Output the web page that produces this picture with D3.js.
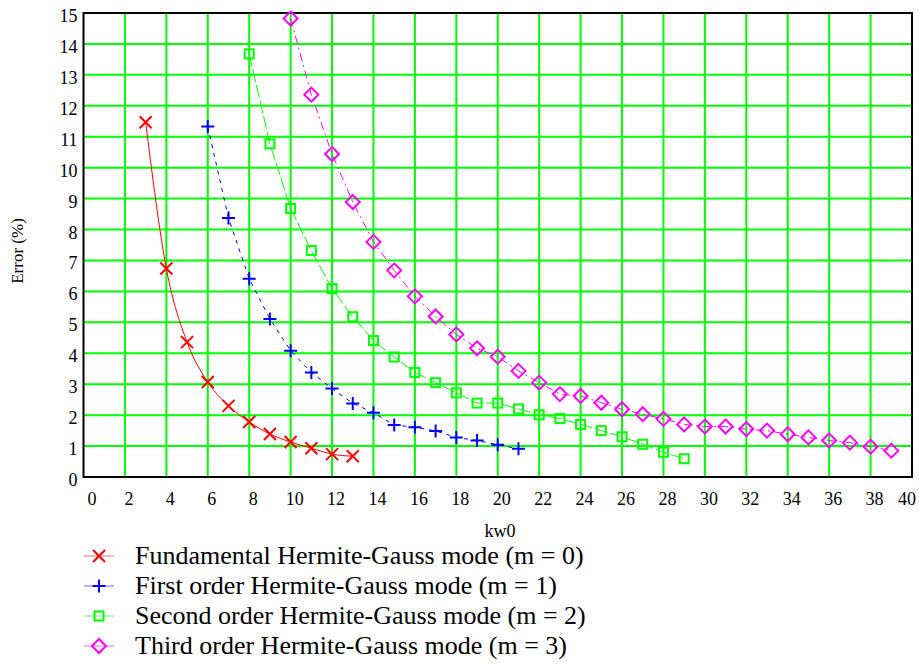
<!DOCTYPE html>
<html><head><meta charset="utf-8"><script src="https://cdn.jsdelivr.net/npm/d3@7"></script></head>
<body style="margin:0">
<svg id="chart" width="919" height="665"></svg>
<script>
// ---- data ----
const xTicks = [0,2,4,6,8,10,12,14,16,18,20,22,24,26,28,30,32,34,36,38,40];
const yTicks = [0,1,2,3,4,5,6,7,8,9,10,11,12,13,14,15];

const kw0_m0 = [3,4,5,6,7,8,9,10,11,12,13];
const err_m0 = [11.47,6.74,4.36,3.07,2.30,1.78,1.39,1.13,0.93,0.74,0.67];

const kw0_m1 = [6,7,8,9,10,11,12,13,14,15,16,17,18,19,20,21];
const err_m1 = [11.33,8.37,6.41,5.11,4.08,3.38,2.86,2.38,2.08,1.68,1.61,1.49,1.28,1.18,1.04,0.91];

const kw0_m2 = [8,9,10,11,12,13,14,15,16,17,18,19,20,21,22,23,24,25,26,27,28,29];
const err_m2 = [13.68,10.77,8.68,7.32,6.09,5.18,4.41,3.88,3.38,3.05,2.72,2.39,2.39,2.20,2.01,1.89,1.70,1.50,1.30,1.06,0.80,0.59];

const kw0_m3 = [10,11,12,13,14,15,16,17,18,19,20,21,22,23,24,25,26,27,28,29,30,31,32,33,34,35,36,37,38,39];
const err_m3 = [14.82,12.36,10.44,8.89,7.60,6.68,5.84,5.19,4.61,4.16,3.89,3.43,3.05,2.68,2.62,2.40,2.19,2.03,1.88,1.70,1.63,1.63,1.55,1.50,1.38,1.28,1.18,1.11,0.98,0.85];

const seriesNames = [
  "Fundamental Hermite-Gauss mode (m = 0)",
  "First order Hermite-Gauss mode (m = 1)",
  "Second order Hermite-Gauss mode (m = 2)",
  "Third order Hermite-Gauss mode (m = 3)"
];
const xLabel = "kw0";
const yLabel = "Error (%)";

// ---- styles ----
const FONT = "Liberation Serif";
const colors = ["#ff0000", "#0000ff", "#00ff00", "#ff00ff"];
const dashes = [null, "4,5", "13,3", "8,4,2,4"];
const markers = ["x", "plus", "square", "diamond"];

const series = [
  {x: kw0_m0, y: err_m0},
  {x: kw0_m1, y: err_m1},
  {x: kw0_m2, y: err_m2},
  {x: kw0_m3, y: err_m3}
].map((s, i) => ({
  name: seriesNames[i], color: colors[i], dash: dashes[i], marker: markers[i],
  pts: s.x.map((xv, j) => ({x: xv, y: s.y[j]}))
}));

const svg = d3.select("#chart").style("font-family", FONT);
const L = 83.5, R = 912, T = 13, B = 477;
const x = d3.scaleLinear().domain([0, 40]).range([L, R]);
const y = d3.scaleLinear().domain([0, 15]).range([B, T]);

// grid
const grid = svg.append("g");
grid.selectAll("line.v").data(xTicks.filter(d => d > 0 && d < 40)).enter().append("line")
  .attr("x1", d => x(d)).attr("x2", d => x(d)).attr("y1", T).attr("y2", B)
  .attr("stroke", "#00ff00").attr("stroke-width", 2);
grid.selectAll("line.h").data(yTicks.filter(d => d > 0 && d < 15)).enter().append("line")
  .attr("x1", L).attr("x2", R).attr("y1", d => y(d)).attr("y2", d => y(d))
  .attr("stroke", "#00ff00").attr("stroke-width", 2);

// frame
svg.append("rect").attr("x", L).attr("y", T).attr("width", R - L).attr("height", B - T)
  .attr("fill", "none").attr("stroke", "#000").attr("stroke-width", 2);

// axes labels (text drawn manually from scale + tick arrays)
svg.append("g").selectAll("text").data(xTicks).enter().append("text")
  .style("font-family", FONT).attr("font-size", 18).attr("text-anchor", "middle")
  .attr("x", d => x(d) + (d === 0 ? 8.5 : (d === 40 ? -5 : 4)))
  .attr("y", B + 28).text(d => d);

svg.append("g").selectAll("text").data(yTicks).enter().append("text")
  .style("font-family", FONT).attr("font-size", 18).attr("text-anchor", "end")
  .attr("x", L - 6).attr("y", d => y(d) + 9).text(d => d);

// axis titles
svg.append("text").attr("x", 500).attr("y", 537).attr("text-anchor", "middle")
  .style("font-family", FONT).attr("font-size", 18).text(xLabel);
svg.append("text").attr("transform", "translate(23,251) rotate(-90)").attr("text-anchor", "middle")
  .style("font-family", FONT).attr("font-size", 17).text(yLabel);

// marker drawing
function drawMarker(g, type, color, cx, cy) {
  const sw = 2;
  if (type === "x") {
    const h = 6;
    g.append("path").attr("d", `M${cx-h},${cy-h}L${cx+h},${cy+h}M${cx-h},${cy+h}L${cx+h},${cy-h}`)
      .attr("stroke", color).attr("stroke-width", sw).attr("fill", "none");
  } else if (type === "plus") {
    const h = 6.5;
    g.append("path").attr("d", `M${cx-h},${cy}L${cx+h},${cy}M${cx},${cy-h}L${cx},${cy+h}`)
      .attr("stroke", color).attr("stroke-width", sw).attr("fill", "none");
  } else if (type === "square") {
    const h = 4.5;
    g.append("rect").attr("x", cx-h).attr("y", cy-h).attr("width", 2*h).attr("height", 2*h)
      .attr("stroke", color).attr("stroke-width", sw).attr("fill", "none");
  } else if (type === "diamond") {
    const h = 7;
    g.append("path").attr("d", `M${cx},${cy-h}L${cx+h},${cy}L${cx},${cy+h}L${cx-h},${cy}Z`)
      .attr("stroke", color).attr("stroke-width", sw).attr("fill", "none");
  }
}

// series
series.forEach((s, i) => {
  const g = svg.append("g");
  const line = d3.line().x(d => x(d.x)).y(d => y(d.y))
    .curve(i === 0 ? d3.curveMonotoneX : d3.curveLinear);
  g.append("path").datum(s.pts).attr("d", line)
    .attr("fill", "none").attr("stroke", s.color).attr("stroke-width", 1)
    .attr("stroke-dasharray", s.dash);
  s.pts.forEach(p => drawMarker(g, s.marker, s.color, x(p.x), y(p.y)));
});

// legend
const legTop = 556, legStep = 30;
series.forEach((s, i) => {
  const ly = legTop + i * legStep;
  svg.append("line").attr("x1", 84).attr("x2", 114).attr("y1", ly).attr("y2", ly)
    .attr("stroke", s.color).attr("stroke-width", 1).attr("stroke-opacity", 0.6);
  drawMarker(svg, s.marker, s.color, 99, ly);
  svg.append("text").attr("x", 135).attr("y", ly + 8).attr("fill", "#000")
    .style("font-family", FONT).attr("font-size", 26)
    .text(s.name);
});
</script>
</body>
</html>
